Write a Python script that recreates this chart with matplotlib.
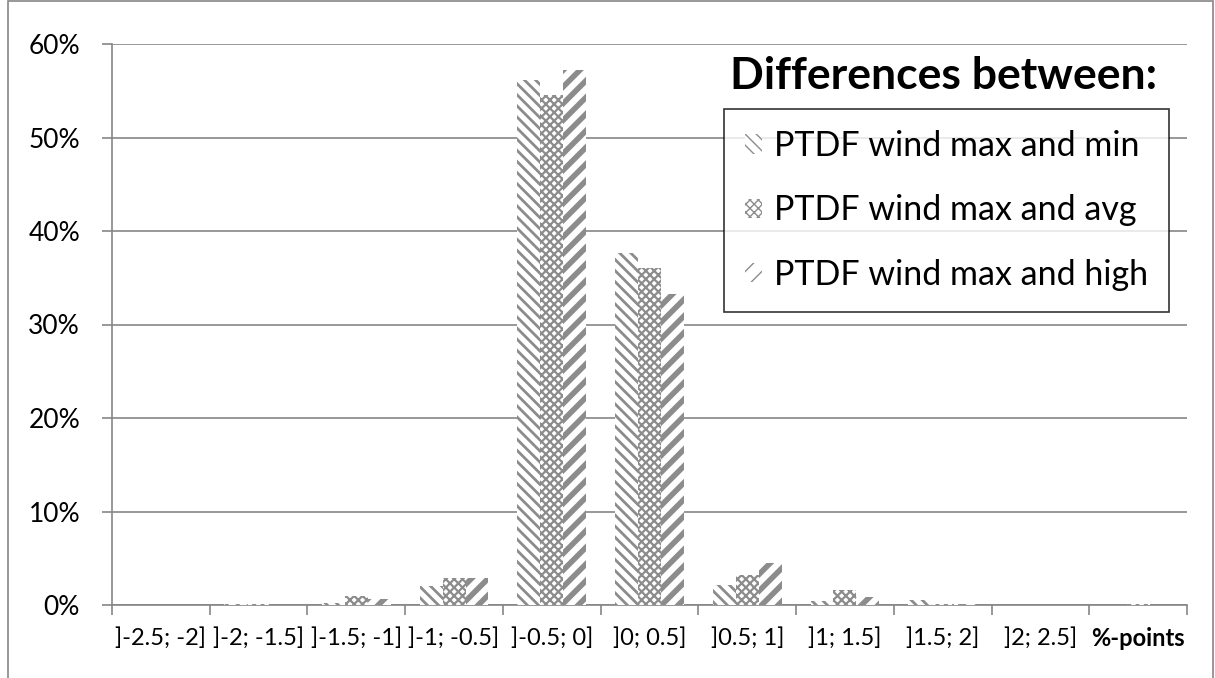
import matplotlib
matplotlib.use("Agg")
import matplotlib.pyplot as plt
import matplotlib.transforms as mtransforms
import numpy as np
from matplotlib.patches import Rectangle, Patch

plt.rcParams['font.family'] = ['Lato', 'DejaVu Sans']

categories = [']-2.5; -2]', ']-2; -1.5]', ']-1.5; -1]', ']-1; -0.5]', ']-0.5; 0]',
              ']0; 0.5]', ']0.5; 1]', ']1; 1.5]', ']1.5; 2]', ']2; 2.5]', '%-points']
max_min = [0.0, 0.1, 0.25, 2.0, 56.1, 37.7, 2.1, 0.4, 0.5, 0.0, 0.05]
max_avg = [0.0, 0.1, 1.0, 2.9, 54.5, 36.0, 3.25, 1.65, 0.15, 0.0, 0.1]
max_high = [0.0, 0.05, 0.65, 2.9, 57.2, 33.3, 4.5, 0.9, 0.1, 0.0, 0.05]
series = [max_min, max_avg, max_high]
labels = ['PTDF wind max and min', 'PTDF wind max and avg', 'PTDF wind max and high']
hatches = ['\\\\\\', 'xxxx', '//']
hatch_lw = [2.0, 1.6, 4.0]

grey = '#868686'
fig = plt.figure(figsize=(12.15, 6.78), dpi=100)
ax = fig.add_axes([112/1215, 1-605/678, (1187-112)/1215, (605-44)/678])

x = np.arange(len(categories))
w = 0.235
handles = []
for i, vals in enumerate(series):
    with plt.rc_context({'hatch.linewidth': hatch_lw[i]}):
        ax.bar(x + (i-1)*w, vals, w, facecolor='white', edgecolor='#8c8c8c',
               linewidth=0, hatch=hatches[i], zorder=3)
        handles.append(Patch(facecolor='white', edgecolor='#8c8c8c', linewidth=0, hatch=hatches[i]))

ax.set_xlim(-0.5, len(categories)-0.5)
ax.set_ylim(0, 60)
ax.set_yticks(np.arange(0, 61, 10))
ax.set_yticklabels([f'{v}%' for v in range(0, 61, 10)], fontsize=19)
ax.yaxis.grid(True, color=grey, linewidth=1.2, zorder=0)
ax.set_xticks(x)
ax.set_xticklabels(categories, fontsize=17)
last = ax.get_xticklabels()[-1]
last.set_fontweight('bold')
last.set_transform(last.get_transform() + mtransforms.ScaledTranslation(0.11, 0, fig.dpi_scale_trans))
ax.set_xticks(np.arange(-0.5, len(categories)), minor=True)
ax.tick_params(axis='x', which='major', length=0, pad=16)
ax.tick_params(axis='x', which='minor', length=7, color=grey, width=1.2)
ax.tick_params(axis='y', length=7, color=grey, width=1.2, pad=16)
for s in ['top', 'right']:
    ax.spines[s].set_visible(False)
for s in ['left', 'bottom']:
    ax.spines[s].set_color(grey)
    ax.spines[s].set_linewidth(1.2)

leg = ax.legend(handles, labels, loc='upper left', bbox_to_anchor=((724-112)/1075, (605-109)/561),
                fontsize=24.5, frameon=True, fancybox=False, edgecolor='black',
                handlelength=0.5, handleheight=0.5, handletextpad=0.35,
                labelspacing=0.95, borderpad=0.62, borderaxespad=0)
leg.get_frame().set_linewidth(1.2)
leg.set_zorder(5)

fig.text(944/1215, 1-76/678, 'Differences between:', fontsize=32, fontweight='bold',
         ha='center', va='center')

fig.patches.append(Rectangle((8/1215, -0.01), (1213-8)/1215, 1-1/678+0.01,
                             transform=fig.transFigure, fill=False, edgecolor=grey, linewidth=1.2))

fig.savefig('out.png', dpi=100)
